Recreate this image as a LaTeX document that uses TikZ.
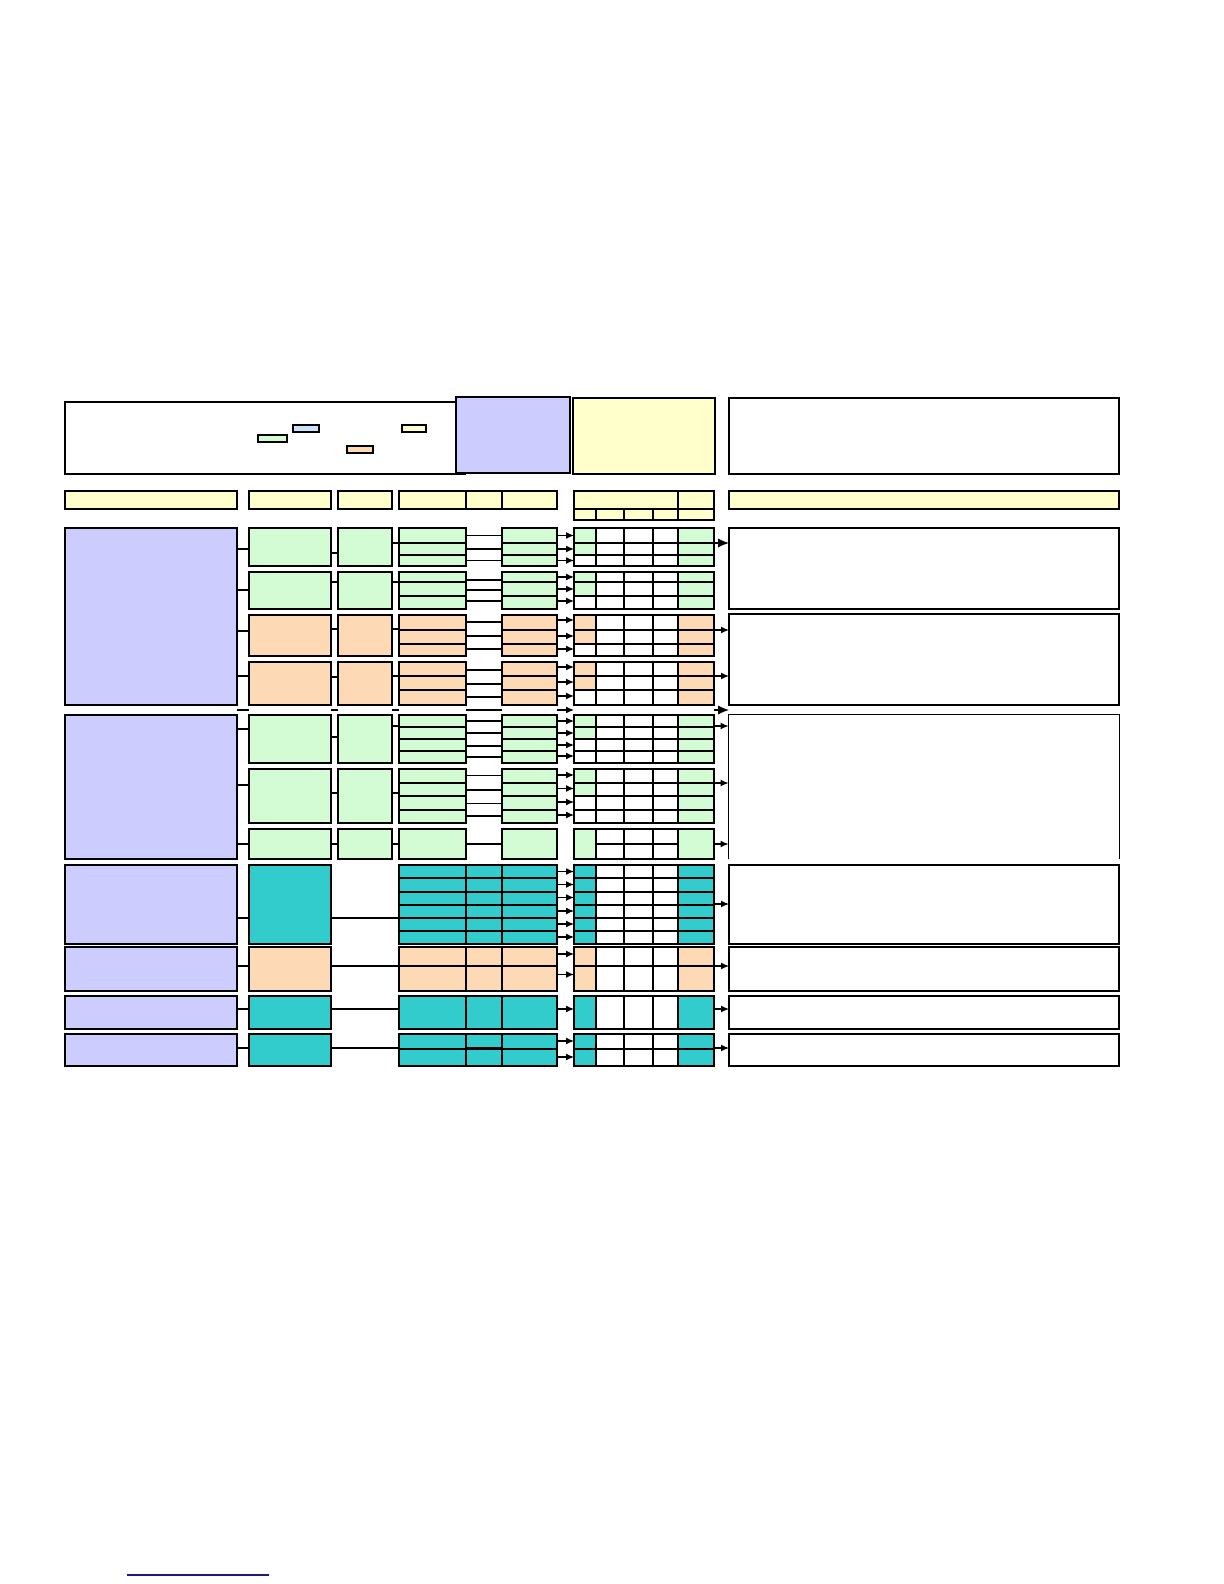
\documentclass[tikz,border=0pt]{standalone}
\usetikzlibrary{fit,arrows.meta}
\definecolor{lilac}{HTML}{CCCCFF}
\definecolor{mint}{HTML}{D4FCD4}
\definecolor{peach}{HTML}{FDD9B5}
\definecolor{butter}{HTML}{FFFFCC}
\definecolor{sea}{HTML}{33CCCC}
\definecolor{sky}{HTML}{CCE4FA}
\definecolor{linkblue}{HTML}{1A1A80}
\tikzset{
  box/.style={draw,line width=0.55pt,inner sep=0pt,outer sep=0pt},
  link/.style={line width=0.55pt},
  arr/.style={line width=0.55pt,-{Latex[length=4pt,width=3.4pt]}},
  bigarr/.style={line width=0.55pt,-{Latex[length=5.5pt,width=4.6pt]}}
}
% box from corner to corner
\newcommand{\blk}[6]{\node[box,#2,fit={(#3,#4) (#5,#6)}] (#1) {};}
% one row group: d, s and the e grid (id, colour, top, bottom, first cell down to)
\newcommand{\trio}[5]{%
  \blk{d#1}{fill=#2}{399}{#3}{466}{#4}
  \blk{s#1}{fill=#2}{502}{#3}{557}{#4}
  \fill[#2] (574,#3) rectangle (596,#5) (678,#3) rectangle (714,#4);
  \blk{e#1}{}{574}{#3}{714}{#4}
  \foreach \x in {596,624,653,678} \draw[link] (\x,#3) -- (\x,#4);
}
\newcommand{\feed}[2]{\foreach \y in {#2} \draw[arr] (s#1.east|-0,\y) -- (e#1.west|-0,\y);}
\newcommand{\bridge}[2]{\foreach \y in {#2} \draw[link] (d#1.east|-0,\y) -- (s#1.west|-0,\y);}

\begin{document}
\begin{tikzpicture}[x=0.5pt,y=-0.5pt]
\useasboundingbox (0,0) rectangle (1224,1584);

% top row
\blk{note}{fill=white}{65}{402}{465}{474}
\blk{title}{fill=lilac}{456}{397}{570}{473}
\blk{key}{fill=butter}{573}{398}{715}{474}
\blk{remark}{fill=white}{729}{398}{1119}{474}
\blk{keysky}{fill=sky}{293}{425}{319}{432}
\blk{keymint}{fill=mint}{258}{435}{287}{442}
\blk{keypeach}{fill=peach}{347}{446}{373}{453}
\blk{keybutter}{fill=butter}{402}{425}{426}{432}

% header row
\blk{hA}{fill=butter}{65}{491}{237}{509}
\blk{hB}{fill=butter}{249}{491}{331}{509}
\blk{hC}{fill=butter}{338}{491}{392}{509}
\blk{hD}{fill=butter}{399}{491}{557}{509}
\draw[link] (466,491) -- (466,509) (502,491) -- (502,509);
\blk{hE}{fill=butter}{574}{491}{714}{520}
\draw[link] (574,509) -- (714,509) (678,491) -- (678,520);
\foreach \x in {596,624,653} \draw[link] (\x,509) -- (\x,520);
\blk{hF}{fill=butter}{729}{491}{1119}{509}

% left column
\blk{a1}{fill=lilac}{65}{528}{237}{705}
\blk{a2}{fill=lilac}{65}{715}{237}{859}
\blk{a3}{fill=lilac}{65}{865}{237}{944}
\blk{a4}{fill=lilac}{65}{947}{237}{991}
\blk{a5}{fill=lilac}{65}{996}{237}{1029}
\blk{a6}{fill=lilac}{65}{1034}{237}{1066}

% right column
\blk{f1}{}{729}{528}{1119}{609}
\blk{f2}{}{729}{614}{1119}{705}
\node[inner sep=0pt,fit={(729,715) (1119,859)}] (f3) {};
\draw[link] (f3.south west) -- (f3.north west) -- (f3.north east) -- (f3.south east);
\blk{f4}{}{729}{865}{1119}{944}
\blk{f5}{}{729}{947}{1119}{991}
\blk{f6}{}{729}{996}{1119}{1029}
\blk{f7}{}{729}{1034}{1119}{1066}

% group 1
\blk{b1}{fill=mint}{249}{528}{331}{566}
\blk{c1}{fill=mint}{338}{528}{392}{566}
\trio{1}{mint}{528}{566}{555}
\foreach \y in {543,555} \draw[link] (399,\y) -- (466,\y) (502,\y) -- (557,\y) (574,\y) -- (714,\y);
\bridge{1}{535.5,549,560.5}
\feed{1}{535.5,549,560.5}
\draw[link] (a1.east|-0,549) -- (b1.west|-0,549);
\draw[link] (b1.east|-0,553) -- (c1.west|-0,553);
\draw[link] (c1.east|-0,543) -- (d1.west|-0,543);
\draw[bigarr] (e1.east|-0,543) -- (f1.west|-0,543);

% group 2
\blk{b2}{fill=mint}{249}{572}{331}{609}
\blk{c2}{fill=mint}{338}{572}{392}{609}
\trio{2}{mint}{572}{609}{596}
\foreach \y in {582,596} \draw[link] (399,\y) -- (466,\y) (502,\y) -- (557,\y) (574,\y) -- (714,\y);
\bridge{2}{580,590,601}
\feed{2}{577,589,601}
\draw[link] (a1.east|-0,590) -- (b2.west|-0,590);
\draw[link] (b2.east|-0,582) -- (c2.west|-0,582);
\draw[link] (c2.east|-0,582) -- (d2.west|-0,582);

% group 3
\blk{b3}{fill=peach}{249}{615}{331}{656}
\blk{c3}{fill=peach}{338}{615}{392}{656}
\trio{3}{peach}{615}{656}{644}
\foreach \y in {630,644} \draw[link] (399,\y) -- (466,\y) (502,\y) -- (557,\y) (574,\y) -- (714,\y);
\bridge{3}{622,636,649}
\feed{3}{620,636,649}
\draw[link] (a1.east|-0,631) -- (b3.west|-0,631);
\draw[link] (b3.east|-0,629) -- (c3.west|-0,629);
\draw[link] (c3.east|-0,629) -- (d3.west|-0,629);
\draw[arr] (e3.east|-0,630) -- (f2.west|-0,630);

% group 4
\blk{b4}{fill=peach}{249}{662}{331}{705}
\blk{c4}{fill=peach}{338}{662}{392}{705}
\trio{4}{peach}{662}{705}{690}
\foreach \y in {676,690} \draw[link] (399,\y) -- (466,\y) (502,\y) -- (557,\y) (574,\y) -- (714,\y);
\bridge{4}{670,684,697}
\feed{4}{667,682,696}
\draw[link] (a1.east|-0,676) -- (b4.west|-0,676);
\draw[link] (b4.east|-0,677) -- (c4.west|-0,677);
\draw[link] (c4.east|-0,676) -- (d4.west|-0,676);
\draw[arr] (e4.east|-0,676) -- (f2.west|-0,676);

% row between the blocks
\draw[link] (a1.east|-0,710) -- (b4.west|-0,710);
\draw[link] (b4.east|-0,710) -- (c4.west|-0,710);
\draw[link] (c4.east|-0,710) -- (d4.west|-0,710);
\draw[link] (d4.east|-0,710) -- (s4.west|-0,710);
\draw[arr] (s4.east|-0,710) -- (e4.west|-0,710);
\draw[bigarr] (e4.east|-0,710) -- (f2.west|-0,710);

% group 5
\blk{b5}{fill=mint}{249}{715}{331}{763}
\blk{c5}{fill=mint}{338}{715}{392}{763}
\trio{5}{mint}{715}{763}{739}
\foreach \y in {727,739,751} \draw[link] (399,\y) -- (466,\y) (502,\y) -- (557,\y) (574,\y) -- (714,\y);
\bridge{5}{721,733,746,757}
\feed{5}{721,733,745,756}
\draw[link] (a2.east|-0,729) -- (b5.west|-0,729);
\draw[link] (b5.east|-0,737) -- (c5.west|-0,737);
\draw[link] (c5.east|-0,726) -- (d5.west|-0,726);
\draw[arr] (e5.east|-0,726) -- (f3.west|-0,726);

% group 6
\blk{b6}{fill=mint}{249}{769}{331}{823}
\blk{c6}{fill=mint}{338}{769}{392}{823}
\trio{6}{mint}{769}{823}{796}
\foreach \y in {783,796,810} \draw[link] (399,\y) -- (466,\y) (502,\y) -- (557,\y) (574,\y) -- (714,\y);
\bridge{6}{775.5,790,803.5,816}
\feed{6}{775,788.5,802,815}
\draw[link] (a2.east|-0,785) -- (b6.west|-0,785);
\draw[link] (b6.east|-0,793) -- (c6.west|-0,793);
\draw[link] (c6.east|-0,793) -- (d6.west|-0,793);
\draw[arr] (e6.east|-0,783) -- (f3.west|-0,783);

% group 7
\blk{b7}{fill=mint}{249}{829}{331}{859}
\blk{c7}{fill=mint}{338}{829}{392}{859}
\trio{7}{mint}{829}{859}{859}
\draw[link] (596,844) -- (678,844);
\bridge{7}{844}
\draw[link] (a2.east|-0,844) -- (b7.west|-0,844);
\draw[link] (b7.east|-0,844) -- (c7.west|-0,844);
\draw[link] (c7.east|-0,844) -- (d7.west|-0,844);
\draw[arr] (e7.east|-0,844) -- (f3.west|-0,844);

% group 8
\blk{b8}{fill=sea}{249}{865}{331}{944}
\trio{8}{sea}{865}{944}{944}
\blk{m8}{fill=sea}{466}{865}{502}{944}
\foreach \y in {878,892,905,918,931} \draw[link] (399,\y) -- (557,\y) (574,\y) -- (714,\y);
\feed{8}{871.5,884.5,897.5,911,924,937}
\draw[link] (a3.east|-0,918) -- (b8.west|-0,918);
\draw[link] (b8.east|-0,918) -- (d8.west|-0,918);
\draw[arr] (e8.east|-0,904) -- (f4.west|-0,904);

% group 9
\blk{b9}{fill=peach}{249}{947}{331}{991}
\trio{9}{peach}{947}{991}{991}
\blk{m9}{fill=peach}{466}{947}{502}{991}
\draw[link] (399,966) -- (557,966) (574,966) -- (714,966);
\feed{9}{954,974.5}
\draw[link] (a4.east|-0,966) -- (b9.west|-0,966);
\draw[link] (b9.east|-0,966) -- (d9.west|-0,966);
\draw[arr] (e9.east|-0,966) -- (f5.west|-0,966);

% group 10
\blk{b10}{fill=sea}{249}{996}{331}{1029}
\trio{10}{sea}{996}{1029}{1029}
\blk{m10}{fill=sea}{466}{996}{502}{1029}
\feed{10}{1009}
\draw[link] (a5.east|-0,1009) -- (b10.west|-0,1009);
\draw[link] (b10.east|-0,1009) -- (d10.west|-0,1009);
\draw[arr] (e10.east|-0,1009) -- (f6.west|-0,1009);

% group 11
\blk{b11}{fill=sea}{249}{1034}{331}{1066}
\trio{11}{sea}{1034}{1066}{1066}
\blk{m11}{fill=sea}{466}{1034}{502}{1066}
\draw[link] (399,1049) -- (557,1049) (574,1049) -- (714,1049);
\draw[line width=1.1pt] (466,1048.5) -- (502,1048.5);
\feed{11}{1041,1057}
\draw[link] (a6.east|-0,1048) -- (b11.west|-0,1048);
\draw[link] (b11.east|-0,1048) -- (d11.west|-0,1048);
\draw[arr] (e11.east|-0,1048) -- (f7.west|-0,1048);

% underline at the foot
\draw[linkblue,line width=0.6pt] (127,1575) -- (269,1575);
\end{tikzpicture}
\end{document}
